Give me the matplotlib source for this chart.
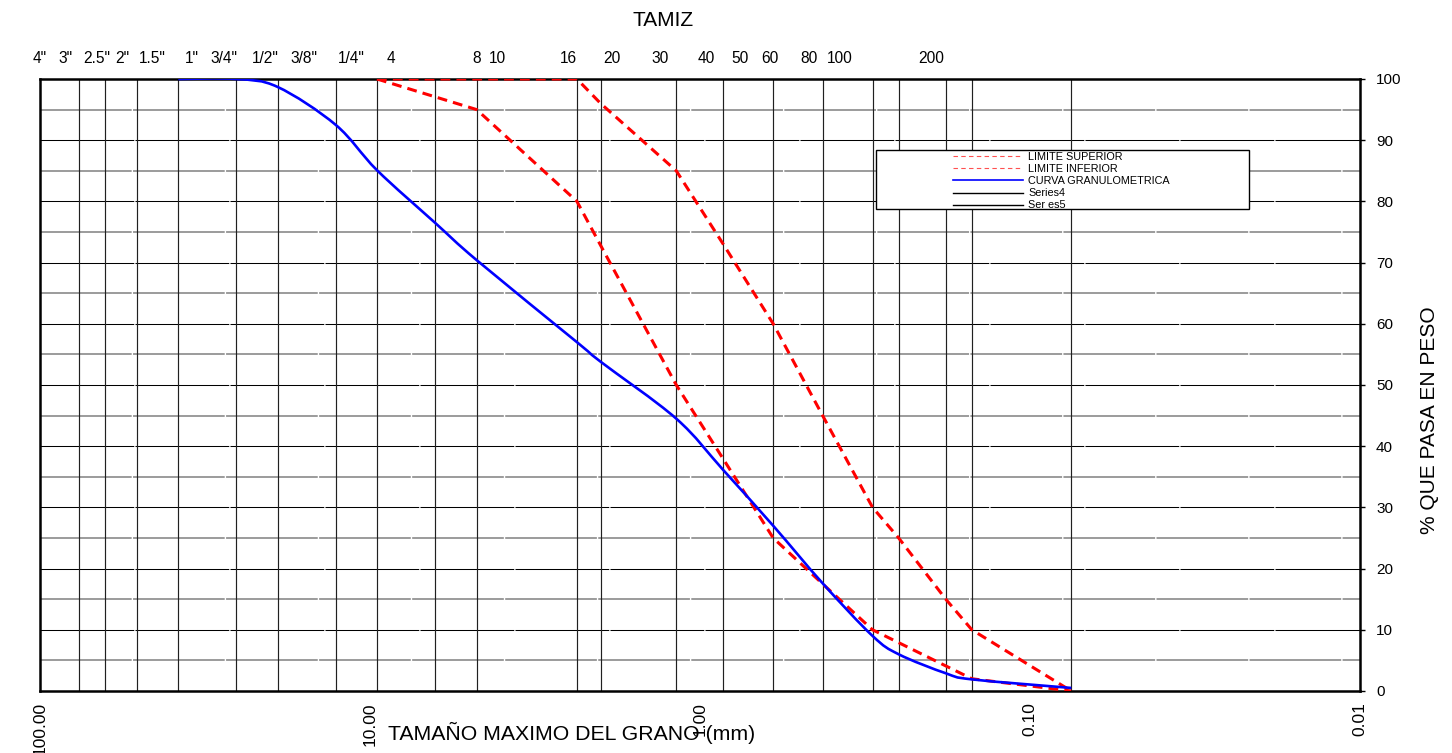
import numpy as np
import matplotlib
matplotlib.use("Agg")
import matplotlib.pyplot as plt
from matplotlib.path import Path
from matplotlib.patches import PathPatch, Rectangle
from matplotlib.lines import Line2D

plt.rcParams['font.family'] = ['Liberation Sans', 'DejaVu Sans']

# sieve openings (mm) -> vertical lines
sieve_mm = [76.2, 63.5, 50.8, 38.1, 25.4, 19.05, 12.7, 9.525, 6.35, 4.75,
            2.36, 2.0, 1.18, 0.85, 0.6, 0.425, 0.3, 0.25, 0.18, 0.15, 0.075]

# top labels (as drawn, slightly offset from the lines in the original)
top_labels = ['4"', '3"', '2.5"', '2"', '1.5"', '1"', '3/4"', '1/2"', '3/8"', '1/4"',
              '4', '8', '10', '16', '20', '30', '40', '50', '60', '80', '100', '200']
top_label_mm = [116.6, 97.2, 77.8, 64.9, 52.6, 39.8, 31.6, 23.6, 17.9, 12.8,
                9.66, 5.26, 4.55, 2.75, 2.02, 1.43, 1.035, 0.811, 0.658, 0.498, 0.401, 0.209]

# grading curve
curve_mm = [38.1, 25.4, 19.05, 12.7, 9.525, 6.35, 4.75, 2.36, 2.0, 1.18,
            0.85, 0.6, 0.425, 0.3, 0.25, 0.18, 0.15, 0.075]
curve_pct = [100, 100, 98.7, 92.5, 85.1, 76.5, 70.4, 57.0, 53.8, 44.5,
             36.1, 27.0, 17.6, 9.0, 6.0, 2.9, 1.9, 0.5]

# limits
limit_mm = [9.525, 4.75, 2.36, 2.0, 1.18, 0.85, 0.6, 0.425, 0.3, 0.25, 0.18, 0.15, 0.075]
upper_pct = [100, 100, 100, 96, 85, 73, 60, 45, 30, 25, 15, 10, 0]
lower_pct = [100, 95, 80, 72.8, 50, 37.9, 25, 17.5, 10, 7.9, 4.1, 2, 0]

x_ticks = [100, 10, 1, 0.1, 0.01]
x_ticklabels = ['100.00', '10.00', '1.00', '0.10', '0.01']
y_ticks = list(range(0, 101, 10))


def smooth_path(x, y):
    # excel-like smoothed line: bezier segments computed in log10(x) space
    pts = np.column_stack([np.log10(x), y])
    n = len(pts)
    verts = [pts[0]]
    codes = [Path.MOVETO]
    for i in range(n - 1):
        p0 = pts[max(i - 1, 0)]
        p1 = pts[i]
        p2 = pts[i + 1]
        p3 = pts[min(i + 2, n - 1)]
        verts += [p1 + (p2 - p0) / 6, p2 - (p3 - p1) / 6, p2]
        codes += [Path.CURVE4] * 3
    verts = np.array(verts)
    verts[:, 0] = 10 ** verts[:, 0]
    return Path(verts, codes)


fig = plt.figure(figsize=(14.52, 7.53), dpi=100)
ax = fig.add_axes([40 / 1452, 62 / 753, 1320 / 1452, 612 / 753])

ax.set_xscale('log')
ax.set_xlim(100, 0.01)
ax.set_ylim(0, 100)

# grid
for v in range(5, 100, 5):
    if v % 10 == 0:
        ax.axhline(v, color='black', lw=0.75, dashes=(90, 1.2), zorder=1)
    else:
        ax.axhline(v, color='#808080', lw=1.1, dashes=(60, 0.9), zorder=1)
ax.vlines(sieve_mm, 0, 100, color='#202020', lw=0.85, zorder=1)

# limits
ax.plot(limit_mm, upper_pct, color='red', lw=2.2, dashes=(3.2, 2.0), zorder=3)
ax.plot(limit_mm, lower_pct, color='red', lw=2.2, dashes=(3.2, 2.0), zorder=3)

# grading curve
ax.add_patch(PathPatch(smooth_path(curve_mm, curve_pct), fill=False,
                       edgecolor='#0000ff', lw=1.9, zorder=4))

for s in ax.spines.values():
    s.set_linewidth(1.8)

ax.set_xticks(x_ticks)
ax.set_xticklabels(x_ticklabels, rotation=90, fontsize=12.5)
ax.xaxis.set_minor_locator(matplotlib.ticker.NullLocator())
ax.tick_params(axis='x', length=0, pad=8)

ax.yaxis.tick_right()
ax.set_yticks(y_ticks)
ax.tick_params(axis='y', labelsize=11, length=3.6, width=1, pad=8)

# top sieve labels
ax2 = ax.twiny()
ax2.set_xscale('log')
ax2.set_xlim(100, 0.01)
ax2.set_xticks(top_label_mm)
ax2.set_xticklabels(top_labels, fontsize=11.2)
ax2.xaxis.set_minor_locator(matplotlib.ticker.NullLocator())
ax2.tick_params(axis='x', length=0, pad=9)
for s in ax2.spines.values():
    s.set_visible(False)

ax.text(0.472, 1.0964, 'TAMIZ', transform=ax.transAxes, ha='center', va='center',
        fontsize=15)
ax.text(1.053, 0.443, '% QUE PASA EN PESO', transform=ax.transAxes, rotation=90,
        ha='center', va='center', fontsize=15)
ax.text(0.403, -0.0686, 'TAMAÑO MAXIMO DEL GRANO (mm)', transform=ax.transAxes,
        ha='center', va='center', fontsize=15.3)

# legend box
ax.add_patch(Rectangle((0.6333, 0.7876), 0.2826, 0.0964, transform=ax.transAxes,
                       facecolor='white', edgecolor='black', lw=1.0, zorder=5))
handles = [
    Line2D([], [], color='#ff5050', lw=0.8, dashes=(4, 3)),
    Line2D([], [], color='#ff5050', lw=0.8, dashes=(4, 3)),
    Line2D([], [], color='#0000ff', lw=1.2),
    Line2D([], [], color='black', lw=1.0),
    Line2D([], [], color='black', lw=1.0),
]
labels = ['LIMITE SUPERIOR', 'LIMITE INFERIOR', 'CURVA GRANULOMETRICA', 'Series4', 'Ser es5']
leg = ax.legend(handles, labels, loc='upper left', bbox_to_anchor=(0.6917, 0.881),
                frameon=False, fontsize=7.8, handlelength=6.5, handletextpad=0.46,
                labelspacing=0.2, borderpad=0, borderaxespad=0)
leg.set_zorder(6)

fig.savefig('out.png', dpi=100)
